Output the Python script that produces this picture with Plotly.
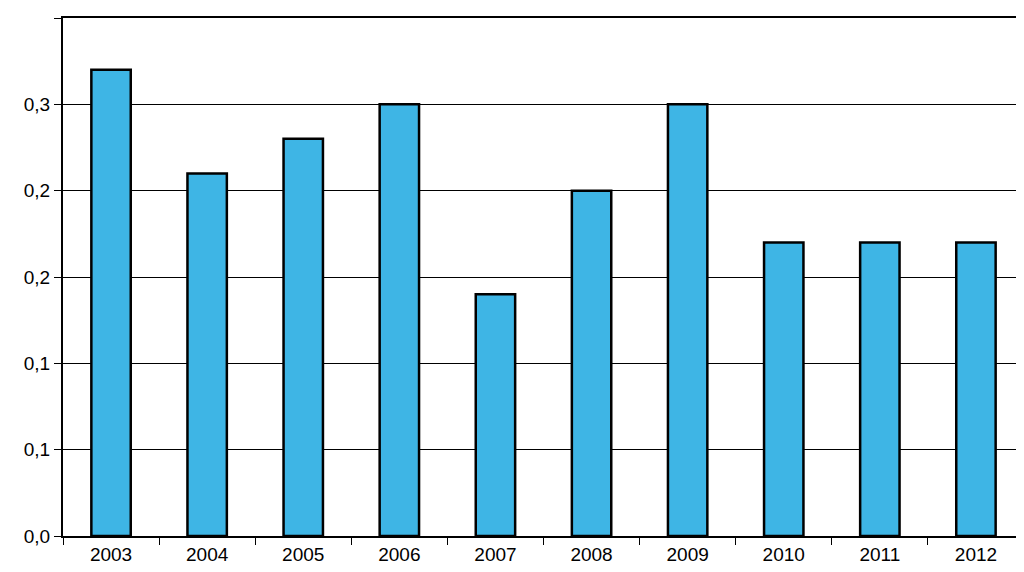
import plotly.graph_objects as go

years = ["2003","2004","2005","2006","2007","2008","2009","2010","2011","2012"]
values = [0.27, 0.21, 0.23, 0.25, 0.14, 0.20, 0.25, 0.17, 0.17, 0.17]
ytick_vals = [0, 0.05, 0.10, 0.15, 0.20, 0.25, 0.30]
ytick_text = ["0,0", "0,1", "0,1", "0,2", "0,2", "0,3", "0,3"]

fig = go.Figure(go.Bar(x=years, y=values, width=0.41,
    marker=dict(color="#3EB5E5", line=dict(color="black", width=2.5))))
fig.update_layout(
    width=1024, height=572, margin=dict(l=55, r=6, t=10, b=44),
    plot_bgcolor="white", paper_bgcolor="white",
    font=dict(family="Liberation Sans Narrow, Liberation Sans, Arial", size=19, color="black"),
    showlegend=False,
)
fig.update_xaxes(showline=True, linecolor="black", linewidth=2, mirror=True,
    ticks="outside", tickson="boundaries", ticklen=7, tickcolor="black", showgrid=False)
fig.update_yaxes(range=[0, 0.30], tickvals=ytick_vals, ticktext=ytick_text, showline=True,
    linecolor="black", linewidth=2, mirror=True, ticks="outside", ticklen=7,
    tickcolor="black", gridcolor="black", gridwidth=1, zeroline=False)
fig.write_html("out.html")
